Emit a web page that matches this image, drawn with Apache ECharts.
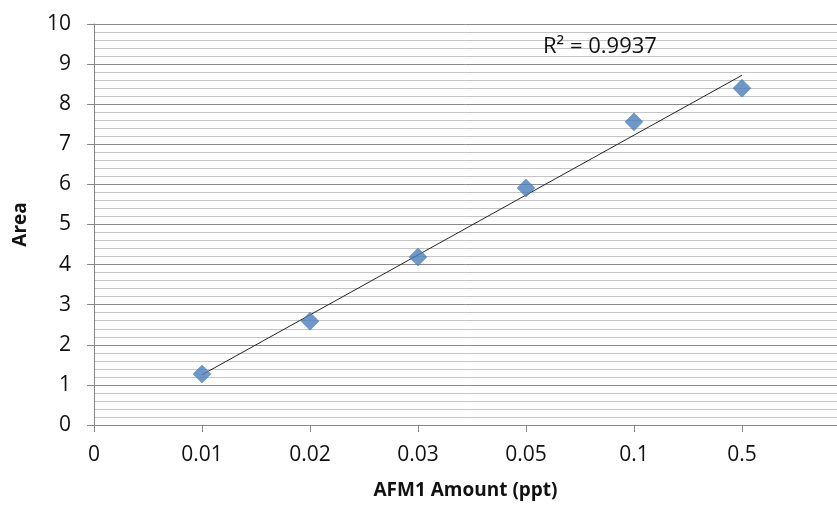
<!DOCTYPE html>
<html><head><meta charset="utf-8">
<script src="https://cdn.jsdelivr.net/npm/echarts@6/dist/echarts.min.js"></script>
<style>html,body{margin:0;padding:0;background:#fff}#c{width:837px;height:505px}</style>
</head><body><div id="c"></div>
<script>
const xLabels = ['0', '0.01', '0.02', '0.03', '0.05', '0.1', '0.5'];
const pointX = [1, 2, 3, 4, 5, 6];
const areaValues = [1.27, 2.59, 4.19, 5.91, 7.56, 8.40];
const r2Text = 'R² = 0.9937';

// linear trendline (least squares over data)
const n = pointX.length;
const mx = pointX.reduce((a, b) => a + b, 0) / n;
const my = areaValues.reduce((a, b) => a + b, 0) / n;
let sxy = 0, sxx = 0;
for (let i = 0; i < n; i++) { sxy += (pointX[i] - mx) * (areaValues[i] - my); sxx += (pointX[i] - mx) ** 2; }
const slope = sxy / sxx, icpt = my - slope * mx;
const trend = [[pointX[0], icpt + slope * pointX[0]], [pointX[n - 1], icpt + slope * pointX[n - 1]]];

const chart = echarts.init(document.getElementById('c'));
const font = "'Open Sans', 'Liberation Sans', sans-serif";
chart.setOption({
  animation: false,
  grid: { left: 94, top: 24, right: 0, bottom: 80, containLabel: false },
  xAxis: {
    type: 'value', min: 0, max: 6.88, interval: 1,
    name: 'AFM1 Amount (ppt)', nameLocation: 'middle', nameGap: 56,
    nameTextStyle: { fontFamily: font, fontWeight: 'bold', fontSize: 19, color: '#111' },
    axisLine: { lineStyle: { color: '#888', width: 1 } },
    axisTick: { show: true, length: 7, lineStyle: { color: '#888' } },
    axisLabel: { fontFamily: font, fontSize: 21, color: '#111', margin: 20,
      formatter: v => (Number.isInteger(v) && v < xLabels.length) ? xLabels[v] : '' , showMaxLabel: false},
    splitLine: { show: false }
  },
  yAxis: {
    type: 'value', min: 0, max: 10, interval: 1,
    name: 'Area', nameLocation: 'middle', nameGap: 64, nameRotate: 90,
    nameTextStyle: { fontFamily: font, fontWeight: 'bold', fontSize: 19, color: '#111' },
    axisLine: { show: true, lineStyle: { color: '#888', width: 1 } },
    axisTick: { show: true, length: 7, lineStyle: { color: '#888' } },
    axisLabel: { fontFamily: font, fontSize: 21, color: '#111', margin: 23 },
    splitLine: { show: true, lineStyle: { color: '#8a8a8a', width: 1 } },
    minorTick: { show: false, splitNumber: 5 },
    minorSplitLine: { show: true, lineStyle: { color: '#c4c4c4', width: 1 } }
  },
  series: [
    {
      type: 'line', data: trend, showSymbol: false, symbol: 'none',
      lineStyle: { color: '#222', width: 1 }, z: 3
    },
    {
      type: 'scatter', data: pointX.map((x, i) => [x, areaValues[i]]),
      symbol: 'diamond', symbolSize: 18,
      itemStyle: { color: '#4a7ebb', borderColor: '#3f70ad', borderWidth: 0.5 }, z: 4
    }
  ],
  graphic: [{
    type: 'text', left: 543, top: 36, z: 10,
    style: { text: r2Text, font: "22px 'Open Sans', sans-serif", fontFamily: font, fontSize: 22, fill: '#111' }
  }]
});
</script></body></html>
